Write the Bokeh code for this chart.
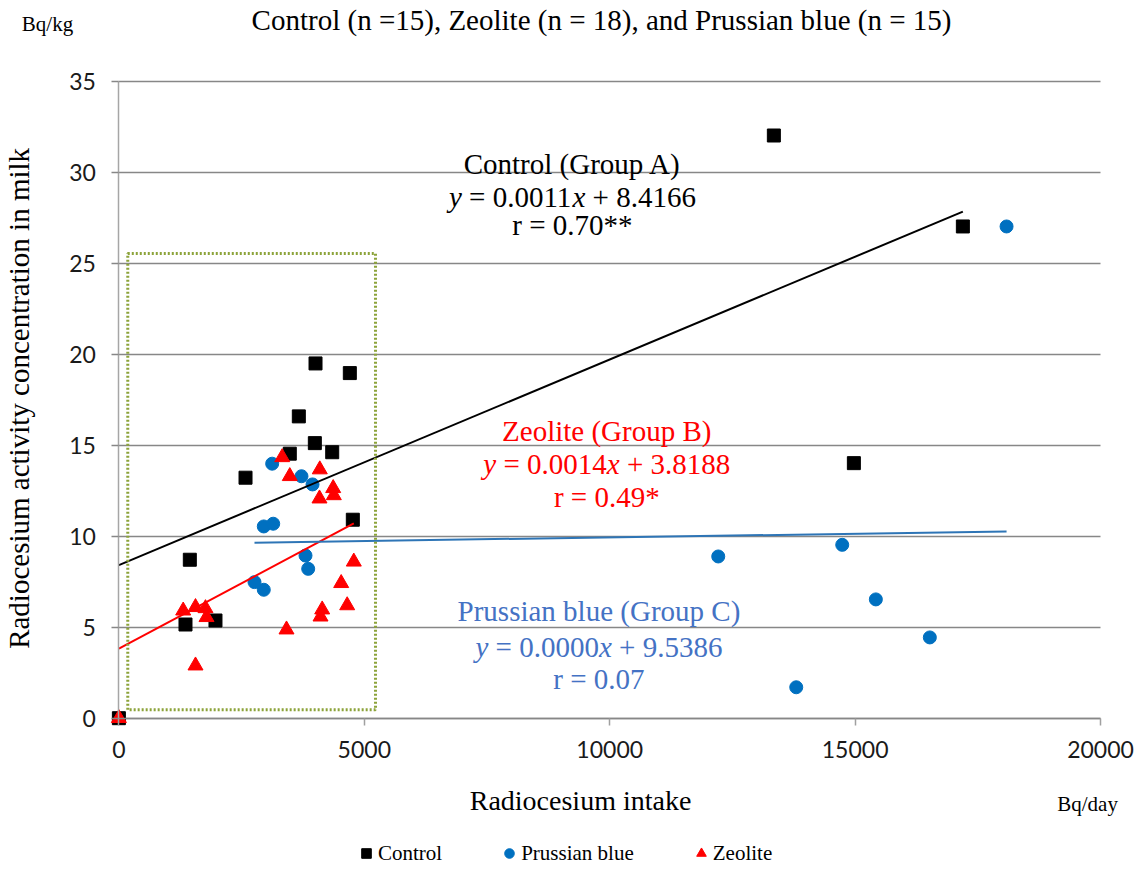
import math

from bokeh.embed import file_html
from bokeh.models import (BoxAnnotation, FixedTicker, Grid, Label, Legend, LegendItem,
                          Range1d)
from bokeh.plotting import figure
from bokeh.resources import INLINE

# Radiocesium intake (Bq/day) and concentration in milk (Bq/kg) per group
control_intake = [0, 1445, 1357, 1968, 2580, 3482, 3666, 3992, 4006, 4346,
                  4705, 4766, 13344, 14974, 17195]
control_milk = [0.0, 8.71, 5.15, 5.37, 13.22, 14.54, 16.59, 15.12, 19.5, 14.62,
                18.97, 10.91, 32.03, 14.02, 27.03]

prussian_intake = [2763, 2952, 2952, 3144, 3123, 3720, 3802, 3857, 3945,
                   12211, 13800, 14737, 15422, 16522, 18085]
prussian_milk = [7.48, 7.06, 10.54, 10.69, 13.99, 13.3, 8.94, 8.21, 12.85,
                 8.89, 1.7, 9.53, 6.53, 4.44, 27.03]

zeolite_intake = [0, 1310, 1561, 1561, 1764, 1785, 3327, 3415, 3482, 4093,
                  4087, 4108, 4142, 4366, 4379, 4529, 4651, 4786]
zeolite_milk = [0.0, 5.91, 6.1, 2.89, 6.04, 5.55, 14.34, 4.87, 13.3, 13.67,
                12.07, 5.58, 5.97, 12.64, 12.25, 7.42, 6.2, 8.6]

# Linear regression of each group: y = slope * x + intercept
trend_names = ["Control (Group A)", "Zeolite (Group B)", "Prussian blue (Group C)"]
trend_slope = [0.00113, 0.00144, 0.00004]
trend_intercept = [8.4166, 3.8188, 9.5386]
trend_r = ["0.70**", "0.49*", "0.07"]

x_ticks = [0, 5000, 10000, 15000, 20000]
y_ticks = [0, 5, 10, 15, 20, 25, 30, 35]

BLACK = "#000000"
RED = "#ff0000"
BLUE = "#0070c0"
TEXT_BLUE = "#4472c4"
GRID = "#878787"
SERIF = "Liberation Serif"

# The plotting frame covers the whole canvas; the axes are pinned at x = 0 and y = 0
# so that titles, units and the legend can sit around the data area.
p = figure(width=1143, height=870, output_backend="svg", toolbar_location=None,
           x_range=Range1d(-2412, 20875), y_range=Range1d(-8.372, 39.451),
           min_border=0)
p.outline_line_color = None
p.background_fill_color = "white"
p.border_fill_color = "white"

p.xgrid.visible = False
p.ygrid.ticker = FixedTicker(ticks=y_ticks)
p.ygrid.grid_line_color = GRID
p.ygrid.grid_line_width = 1.6
if "cross_bounds" in Grid.properties():
    p.ygrid.cross_bounds = (0, 20000)

xax = p.xaxis[0]
xax.fixed_location = 0
xax.bounds = (0, 20000)
xax.ticker = FixedTicker(ticks=x_ticks)
xax.axis_line_color = GRID
xax.axis_line_width = 1.6
xax.major_tick_in = 0
xax.major_tick_out = 7
xax.major_tick_line_color = "#a0a0a0"
xax.major_tick_line_width = 1.5
xax.minor_tick_line_color = None
xax.major_label_standoff = 16

yax = p.yaxis[0]
yax.fixed_location = 0
yax.bounds = (0, 35)
yax.ticker = FixedTicker(ticks=y_ticks)
yax.axis_line_color = "#a6a6a6"
yax.axis_line_width = 1.5
yax.major_tick_in = 0
yax.major_tick_out = 7
yax.major_tick_line_color = GRID
yax.major_tick_line_width = 1.6
yax.minor_tick_line_color = None
yax.major_label_standoff = 16

for ax in (xax, yax):
    ax.major_label_text_font = "Lato"
    ax.major_label_text_font_size = "23px"
    ax.major_label_text_color = "#1a1a1a"

# dotted frame around the low-intake cluster
p.add_layout(BoxAnnotation(left=181, right=5228, bottom=0.46, top=25.55,
                           fill_color=None, fill_alpha=0, line_color="#8ca33a",
                           line_alpha=1.0, line_width=3, line_dash="2 2"))

r_control = p.scatter(control_intake, control_milk, marker="square", size=13,
                      fill_color=BLACK, line_color=BLACK)
r_prussian = p.scatter(prussian_intake, prussian_milk, marker="circle", size=13,
                       fill_color=BLUE, line_color=BLUE)
r_zeolite = p.scatter(zeolite_intake, zeolite_milk, marker="triangle", size=15,
                      fill_color=RED, line_color=RED)

# regression lines over each group's intake range
groups = [(control_intake, BLACK), (zeolite_intake, RED), (prussian_intake, "#2e75b6")]
for (xs, color), m, b in zip(groups, trend_slope, trend_intercept):
    x0, x1 = min(xs), max(xs)
    p.line([x0, x1], [m * x0 + b, m * x1 + b], line_color=color, line_width=2)

legend = Legend(items=[LegendItem(label="Control", renderers=[r_control]),
                       LegendItem(label="Prussian blue", renderers=[r_prussian]),
                       LegendItem(label="Zeolite", renderers=[r_zeolite])],
                orientation="horizontal", location=(354, 4), padding=0, margin=0,
                spacing=55, glyph_width=24, glyph_height=26, label_standoff=0,
                label_text_font=SERIF, label_text_font_size="21px",
                label_text_color=BLACK, border_line_color=None,
                background_fill_alpha=0)
p.add_layout(legend)


def label(x, y, text, size, color, style="normal", align="center", angle=0.0, x_offset=0):
    p.add_layout(Label(x=x, y=y, text=text, text_font=SERIF, text_font_size=f"{size}px",
                       text_color=color, text_font_style=style, text_align=align,
                       text_baseline="middle", angle=angle, x_offset=x_offset))


# Times-metric advance widths (per 1000 em) used to lay out the equations
ADVANCE = {c: 500 for c in "0123456789"}
ADVANCE.update({".": 250, " ": 250, "=": 564, "+": 564, "x": 444, "y": 444})


def text_width(s, size):
    return sum(ADVANCE[c] for c in s) * size / 1000


def equation(xc, yc, slope, intercept, size, color):
    pieces = [("y", "italic", True), (f"= {slope:.4f}", "normal", False),
              ("x", "italic", True), (f"+ {intercept:.4f}", "normal", False)]
    gap = text_width(" ", size)
    total = sum(text_width(t, size) for t, _, _ in pieces) + 2 * gap
    off = -total / 2
    for t, style, spaced in pieces:
        label(xc, yc, t, size, color, style=style, align="left", x_offset=off)
        off += text_width(t, size) + (gap if spaced else 0)


# group annotations: name, fitted equation and correlation
annot = [
    (9240, [30.48, 28.64, 27.1], BLACK),
    (9940, [15.8, 13.95, 12.15], RED),
    (9780, [5.87, 3.89, 2.18], TEXT_BLUE),
]
for (xc, ys, color), name, m, b, r in zip(annot, trend_names, trend_slope,
                                          trend_intercept, trend_r):
    label(xc, ys[0], name, 29, color)
    equation(xc, ys[1], m, b, 29, color)
    label(xc, ys[2], f"r = {r}", 29, color)

# titles and units around the data area
label(9833, 38.36, "Control (n =15), Zeolite (n = 18), and Prussian blue (n = 15)", 29, BLACK)
label(-1455, 38.14, "Bq/kg", 21, BLACK)
label(9405, -4.52, "Radiocesium intake", 28, BLACK)
label(19735, -4.69, "Bq/day", 21, BLACK)
label(-2045, 17.58, "Radiocesium activity concentration in milk", 29, BLACK,
      angle=math.pi / 2)

open("out.html", "w").write(file_html(p, INLINE))
